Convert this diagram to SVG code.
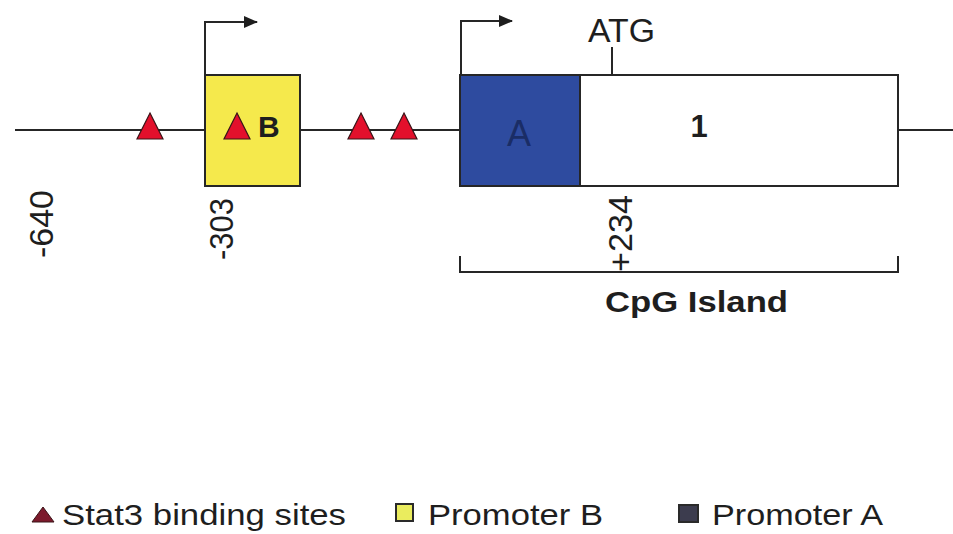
<svg xmlns="http://www.w3.org/2000/svg" width="953" height="534" viewBox="0 0 953 534">
  <style>
    .ln { stroke: #262626; stroke-width: 2; fill: none; }
    .box { stroke: #262626; stroke-width: 2; }
    .site { fill: #e3102c; stroke: #3a1418; stroke-width: 1.2; }
    .t { font-family: "Liberation Sans", Arial, sans-serif; fill: #1e1e1e; }
    .b { font-weight: bold; }
  </style>
  <defs>
    <marker id="head" viewBox="0 0 14 12" refX="13" refY="6" markerWidth="14" markerHeight="12" markerUnits="userSpaceOnUse" orient="auto">
      <path d="M0,0 L14,6 L0,12 z" fill="#1e1e1e"/>
    </marker>
  </defs>
  <rect width="953" height="534" fill="#ffffff"/>

  <!-- backbone and transcription start arrows -->
  <g id="connectors">
    <path class="ln" d="M15,130 H205 M300,130 H460 M898,130 H953"/>
    <path class="ln" d="M205,75 V22 H257" marker-end="url(#head)"/>
    <path class="ln" d="M461,75 V21 H512" marker-end="url(#head)"/>
    <path class="ln" d="M612,47 V75"/>
    <path class="ln" d="M460,256 V272 H898 V256"/>
  </g>

  <g id="promoter-b">
    <rect class="box" x="205" y="75" width="95" height="111" fill="#f5e94c"/>
    <text class="t b" x="258" y="137" font-size="30">B</text>
  </g>

  <g id="promoter-a">
    <rect class="box" x="460" y="75" width="120" height="111" fill="#2e4b9f"/>
    <text class="t" x="519" y="146" font-size="36" text-anchor="middle" style="fill:#1a2d66">A</text>
  </g>

  <g id="exon-1">
    <rect class="box" x="580" y="75" width="318" height="111" fill="#ffffff"/>
    <text class="t b" x="699" y="137" font-size="31" text-anchor="middle">1</text>
  </g>

  <g id="atg">
    <text class="t" x="588" y="42" font-size="33" textLength="67" lengthAdjust="spacingAndGlyphs">ATG</text>
  </g>

  <g id="stat3-sites">
    <polygon class="site" points="150,113 163,139 137,139"/>
    <polygon class="site" points="237,113 250,139 224,139"/>
    <polygon class="site" points="361,113 374,139 348,139"/>
    <polygon class="site" points="404,113 417,139 391,139"/>
  </g>

  <g id="positions">
    <text class="t" font-size="33" transform="translate(53,258) rotate(-90)" textLength="68" lengthAdjust="spacingAndGlyphs">-640</text>
    <text class="t" font-size="33" transform="translate(233,260) rotate(-90)" textLength="62" lengthAdjust="spacingAndGlyphs">-303</text>
    <text class="t" font-size="33" transform="translate(632,272) rotate(-90)" textLength="77" lengthAdjust="spacingAndGlyphs">+234</text>
  </g>

  <g id="cpg-island">
    <text class="t b" x="605" y="312" font-size="29" textLength="183" lengthAdjust="spacingAndGlyphs">CpG Island</text>
  </g>

  <g id="legend">
    <polygon points="43,507 54,522 32,522" fill="#7c1a2c" stroke="#3a1418" stroke-width="1"/>
    <text class="t" x="62" y="525" font-size="30" textLength="284" lengthAdjust="spacingAndGlyphs">Stat3 binding sites</text>
    <rect x="396" y="504" width="17" height="17" fill="#eaec5e" stroke="#2a2a2a" stroke-width="2"/>
    <text class="t" x="428" y="525" font-size="30" textLength="175" lengthAdjust="spacingAndGlyphs">Promoter B</text>
    <rect x="679" y="505" width="19" height="17" fill="#3c3c4e" stroke="#2a2a2a" stroke-width="2"/>
    <text class="t" x="712" y="525" font-size="30" textLength="171" lengthAdjust="spacingAndGlyphs">Promoter A</text>
  </g>
</svg>
